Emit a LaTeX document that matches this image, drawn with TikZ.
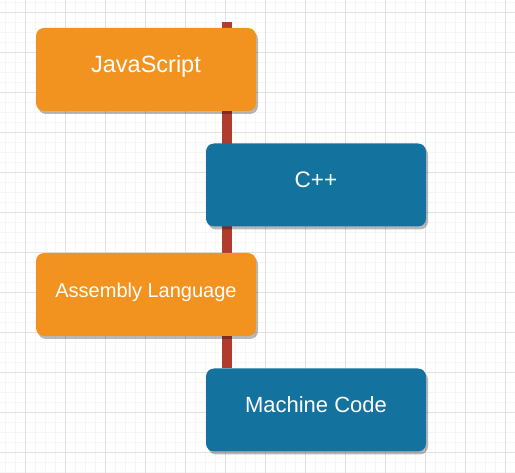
\documentclass[tikz,border=0pt]{standalone}
\usepackage{fontspec}
\setmainfont{Liberation Sans}
\usetikzlibrary{shadows,backgrounds}
\definecolor{orangebox}{RGB}{242,147,32}
\definecolor{bluebox}{RGB}{19,114,158}
\definecolor{spine}{RGB}{176,60,46}
\definecolor{gridminor}{RGB}{246,246,246}
\definecolor{gridmajor}{RGB}{226,226,226}
\tikzset{
  card/.style={rectangle, rounded corners=8pt, minimum width=220pt, minimum height=83pt,
    inner sep=0pt, text=white, text height=12pt, text depth=6pt,
    drop shadow={shadow xshift=2pt, shadow yshift=-3pt, fill=black, opacity=0.28}},
  orangecard/.style={card, fill=orangebox},
  bluecard/.style={card, fill=bluebox},
  spinebar/.style={draw=spine, line width=10pt},
}
\begin{document}
\begin{tikzpicture}[x=1pt,y=-1pt]
\useasboundingbox (0,0) rectangle (515,473);
\fill[white] (0,0) rectangle (515,473);
% grid
\foreach \x in {5,15,...,515} \draw[gridminor, line width=0.6pt] (\x,0) -- (\x,473);
\foreach \y in {2,12,...,473} \draw[gridminor, line width=0.6pt] (0,\y) -- (515,\y);
\foreach \x in {25,65,...,515} \draw[gridmajor, line width=0.8pt] (\x,0) -- (\x,473);
\foreach \y in {12,52,...,473} \draw[gridmajor, line width=0.8pt] (0,\y) -- (515,\y);
% spine
\coordinate (top) at (227,22);
\coordinate (bottom) at (227,368);
\draw[spinebar] (top) -- (bottom);
% cards
\node[orangecard, font=\fontsize{23.5}{27}\selectfont] (js) at (146,69.5) {JavaScript};
\node[bluecard, font=\fontsize{22.5}{26}\selectfont] (cpp) at (316,185) {C++};
\node[orangecard, font=\fontsize{20}{24}\selectfont] (asm) at (146,294.5) {Assembly Language};
\node[bluecard, font=\fontsize{22}{26}\selectfont] (mc) at (316,410) {Machine Code};
\end{tikzpicture}
\end{document}
